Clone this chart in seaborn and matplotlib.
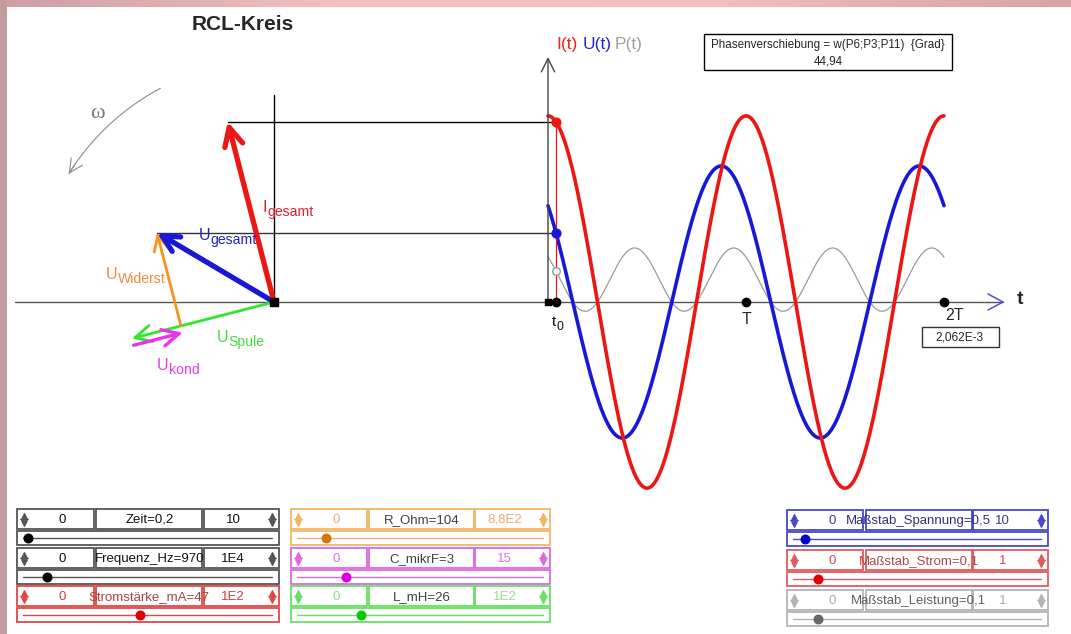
#!/usr/bin/env python3
'''
Zeigerdiagramm und Zeitverlauf eines RCL-Kreises (Nachbau eines
Bildschirmfotos). Alle Zeiger und Kurven werden aus den Reglerwerten
berechnet.
'''
import numpy as np
import seaborn as sns
import matplotlib.pyplot as plt
from matplotlib.patches import Rectangle

# ---- Reglerwerte aus dem Bild ----
R_ohm = 104
C_mikrF = 3
L_mH = 26
f_Hz = 970
I_mA = 47
t0_periods = 0.04           # Lage von t0 auf der Zeitachse (in Perioden)

slider_labels = ["Zeit=0,2", "Frequenz_Hz=970", "Stromstärke_mA=47",
                 "R_Ohm=104", "C_mikrF=3", "L_mH=26",
                 "Maßstab_Spannung=0,5", "Maßstab_Strom=0,1",
                 "Maßstab_Leistung=0,1"]
slider_values = [0.2, 970, 47, 104, 3, 26, 0.5, 0.1, 0.1]
slider_max = [10, 1e4, 100, 880, 15, 100, 10, 1, 1]
slider_min_text = ["0"] * 9
slider_max_text = ["10", "1E4", "1E2", "8,8E2", "15", "1E2", "10", "1", "1"]

# ---- Layout (Pixel) ----
W, H = 1071, 634
PH_O = np.array([274.0, 302.0])   # Ursprung Zeigerdiagramm
T_O = np.array([548.0, 302.0])    # Ursprung Zeitdiagramm
PX_PER_T = 198.0                  # Pixel pro Periode
PX_V, PX_MA, PX_MW = 19.7, 3.96, 0.195

RED, BLUE, GRAY = "#ee1515", "#1818d8", "#9a9a9a"
ORANGE, GREEN, MAGENTA = "#f7941d", "#2ee82e", "#ee30ee"

# Reglerstil: Rand, Zahlen, Beschriftung, Punkt, Spalte, Zeile
slider_edge = ["#555555", "#555555", "#e04848", "#f2b466", "#e066e0",
               "#66e066", "#4848c8", "#e05a5a", "#b4b4b4"]
slider_num = ["#111111", "#111111", "#d03a3a", "#f0a868", "#e070e0",
              "#8ee08e", "#3a3aa0", "#d84848", "#a8a8a8"]
slider_lab = ["#111111", "#111111", "#b04040", "#404040", "#404040",
              "#404040", "#303080", "#b04848", "#606060"]
slider_dot = ["#000000", "#000000", "#dd0000", "#d47510", "#dd00dd",
              "#00cc00", "#0000cc", "#dd0000", "#666666"]
slider_cols = [(17, 279)] * 3 + [(291, 550)] * 3 + [(787, 1048)] * 3
slider_rows = [509, 548, 586, 509, 548, 586, 510, 550, 590]


def vec(length, ang):
    '''Zeiger in Pixelkoordinaten (y nach unten).'''
    return np.array([length * np.cos(ang), -length * np.sin(ang)])


def arrow(ax, start, tip, color, lw, scale=18):
    ax.annotate('', xy=tip, xytext=start,
                arrowprops=dict(arrowstyle='->,head_length=0.6,head_width=0.3',
                                color=color, lw=lw, shrinkA=0, shrinkB=0,
                                mutation_scale=scale))


def sublabel(ax, x, y, main, sub, color, size=11.5, frac=0.88):
    '''Text mit Index, y = Grundlinie des Haupttextes.'''
    t = ax.text(x, y, main, color=color, fontsize=size, va='baseline')
    ax.annotate(sub, xy=(1, 0), xycoords=t, xytext=(0.0, -2.6),
                textcoords='offset points', color=color,
                fontsize=size * frac, va='bottom')


def spin(ax, x, yc, color):
    ax.scatter([x], [yc - 3.5], marker='^', s=16, color=color, zorder=5)
    ax.scatter([x], [yc + 3.5], marker='v', s=16, color=color, zorder=5)
    ax.plot([x - 4, x + 4], [yc, yc], color=color, lw=0.8)


def draw_slider(ax, k):
    x0, x1 = slider_cols[k]
    y0 = slider_rows[k]
    w = x1 - x0
    edge = slider_edge[k]
    cells = [(x0, x0 + 0.292 * w), (x0 + 0.303 * w, x0 + 0.707 * w),
             (x0 + 0.712 * w, x1)]
    for a, b in cells:
        ax.add_patch(Rectangle((a, y0), b - a, 20, fill=False, ec=edge, lw=1.3))
    yc = y0 + 10
    spin(ax, x0 + 7, yc, edge)
    spin(ax, x1 - 7, yc, edge)
    ty = yc + 1
    ax.text((cells[0][0] + cells[0][1]) / 2 + 7, ty, slider_min_text[k],
            ha='center', va='center', fontsize=9.5, color=slider_num[k])
    ax.text((cells[2][0] + cells[2][1]) / 2 - 8, ty, slider_max_text[k],
            ha='center', va='center', fontsize=9.5, color=slider_num[k])
    ax.text((cells[1][0] + cells[1][1]) / 2, ty, slider_labels[k],
            ha='center', va='center', fontsize=9.5, color=slider_lab[k])
    # Schiebeleiste
    sy = y0 + 22
    ax.add_patch(Rectangle((x0, sy), w, 14, fill=False, ec=edge, lw=1.3))
    ta, tb = x0 + 6, x1 - 7
    ax.plot([ta, tb], [sy + 7, sy + 7], color=edge, lw=1)
    xd = ta + slider_values[k] / slider_max[k] * (tb - ta)
    ax.scatter([xd], [sy + 7], s=38, color=slider_dot[k], zorder=6)


def main():
    sns.set_theme(style='white')
    plt.rcParams['font.family'] = ['Liberation Sans', 'DejaVu Sans']

    # Physik
    w = 2 * np.pi * f_Hz
    XL = w * L_mH * 1e-3
    XC = 1 / (w * C_mikrF * 1e-6)
    phi = np.arctan2(XL - XC, R_ohm)
    I_A = I_mA * 1e-3
    U_R, U_L, U_C = R_ohm * I_A, XL * I_A, XC * I_A
    U_tot = np.hypot(R_ohm, XL - XC) * I_A
    T_s = 1 / f_Hz

    fig = plt.figure(figsize=(W / 100, H / 100), dpi=100)
    ax = fig.add_axes([0, 0, 1, 1])
    ax.axis('off')

    # rosa Fensterrand
    grad = np.linspace(0, 1, 200)[None, :]
    ax.imshow(grad, extent=[0, W, 7, 0], cmap=sns.blend_palette(
        ["#cfa0a3", "#f2c2c4", "#f0bfc2", "#d6a3a6"], as_cmap=True),
        aspect='auto', zorder=0)
    ax.add_patch(Rectangle((0, 0), 7, H, color="#c39b9d", lw=0))
    ax.set_xlim(0, W)
    ax.set_ylim(H, 0)

    ax.text(243, 25, "RCL-Kreis", fontsize=15, fontweight='bold',
            ha='center', va='center')

    # Achsen
    ax.plot([15, 1003], [PH_O[1], PH_O[1]], color='#555555', lw=1)
    ax.plot([988, 1003, 988], [294, 302, 310], color='#5050d0', lw=1.1)
    ax.text(1020, 299, "t", fontsize=14, fontweight='bold', ha='center', va='center')
    ax.plot([PH_O[0], PH_O[0]], [PH_O[1], 95], color='black', lw=1)
    arrow(ax, T_O, (T_O[0], 57), '#444444', 1, scale=16)

    # Zeiger
    thI = np.pi / 2 + 2 * np.pi * t0_periods
    I_tip = PH_O + vec(I_mA * PX_MA, thI)
    L_tip = PH_O + vec(U_L * PX_V, thI + np.pi / 2)
    C_off = vec(7, thI + np.pi)      # leicht versetzt, damit sichtbar
    C_tip = L_tip + vec(U_C * PX_V, thI - np.pi / 2)
    U_tip = C_tip + vec(U_R * PX_V, thI)

    x0 = T_O[0] + t0_periods * PX_PER_T
    ax.plot([I_tip[0], x0], [I_tip[1], I_tip[1]], color='black', lw=1)
    ax.plot([U_tip[0], x0], [U_tip[1], U_tip[1]], color='#333333', lw=1)

    arrow(ax, PH_O, L_tip, GREEN, 2.0, scale=20)
    arrow(ax, L_tip + C_off, C_tip + C_off, MAGENTA, 2.4, scale=20)
    arrow(ax, C_tip, U_tip, ORANGE, 2.0, scale=18)
    arrow(ax, PH_O, U_tip, BLUE, 3.8, scale=20)
    arrow(ax, PH_O, I_tip, RED, 3.8, scale=22)
    ax.scatter([PH_O[0]], [PH_O[1]], marker='s', s=30, color='black', zorder=7)

    sublabel(ax, 263, 212, "I", "gesamt", '#e0202a')
    sublabel(ax, 199, 240, "U", "gesamt", '#2222c0')
    sublabel(ax, 106, 279, "U", "Widerst", '#f08a3a')
    sublabel(ax, 217, 342, "U", "Spule", '#3ede3e')
    sublabel(ax, 157, 370, "U", "kond", '#e040e0')

    # Drehsinn omega
    ang = np.radians(np.linspace(118, 148, 60))
    r = 242
    ax.plot(PH_O[0] + r * np.cos(ang), PH_O[1] - r * np.sin(ang), color='#8a8a8a', lw=0.8)
    arrow(ax, (PH_O[0] + r * np.cos(ang[-6]), PH_O[1] - r * np.sin(ang[-6])),
          (PH_O[0] + r * np.cos(ang[-1]), PH_O[1] - r * np.sin(ang[-1])), '#8a8a8a', 0.8, 16)
    ax.text(97, 113, "ω", color='#777777', fontsize=16, family='Liberation Serif',
            ha='center', va='center')

    # Zeitverlauf
    t = np.linspace(0, 2 * T_s, 500)
    xs = T_O[0] + t / T_s * PX_PER_T
    i_t = I_mA * np.cos(w * t)
    u_t = U_tot * np.cos(w * t + phi)
    p_t = u_t * i_t
    sns.lineplot(x=xs, y=T_O[1] - p_t * PX_MW, color=GRAY, lw=0.9, ax=ax,
                 sort=False, estimator=None)
    sns.lineplot(x=xs, y=T_O[1] - u_t * PX_V, color=BLUE, lw=2.6, ax=ax,
                 sort=False, estimator=None)
    sns.lineplot(x=xs, y=T_O[1] - i_t * PX_MA, color=RED, lw=2.6, ax=ax,
                 sort=False, estimator=None)

    t0 = t0_periods * T_s
    i0 = T_O[1] - I_mA * np.cos(w * t0) * PX_MA
    u0 = T_O[1] - U_tot * np.cos(w * t0 + phi) * PX_V
    p0 = T_O[1] - U_tot * np.cos(w * t0 + phi) * I_mA * np.cos(w * t0) * PX_MW
    ax.plot([x0, x0], [i0, T_O[1]], color=RED, lw=0.9)
    ax.scatter([x0], [i0], s=40, color=RED, zorder=7)
    ax.scatter([x0], [u0], s=40, color=BLUE, zorder=7)
    ax.scatter([x0], [p0], s=30, facecolor='white', edgecolor=GRAY, lw=1, zorder=7)

    marks = T_O[0] + np.array([t0_periods, 1, 2]) * PX_PER_T
    ax.scatter(marks, [T_O[1]] * 3, s=36, color='black', zorder=7)
    ax.scatter([T_O[0]], [T_O[1]], marker='s', s=22, color='black', zorder=7)
    sublabel(ax, x0 - 4, 326, "t", "0", '#111111', size=11, frac=0.8)
    ax.text(marks[1], 320, "T", fontsize=11.5, ha='center', va='center')
    ax.text(marks[2] + 11, 316, "2T", fontsize=11.5, ha='center', va='center')

    ax.text(556, 45, "I(t)", color='#ee2020', fontsize=12.5, va='center')
    ax.text(583, 45, "U(t)", color='#2828c8', fontsize=12.5, va='center')
    ax.text(615, 45, "P(t)", color='#a0a0a0', fontsize=12.5, va='center')

    # Anzeigen
    ax.add_patch(Rectangle((704, 34), 248, 36, fill=False, ec='black', lw=1))
    ax.text(828, 45, "Phasenverschiebung = w(P6;P3;P11)  {Grad}", fontsize=8.4,
            ha='center', va='center')
    ax.text(828, 61, f"{np.degrees(phi):.2f}".replace('.', ','), fontsize=8.4,
            ha='center', va='center')
    ax.add_patch(Rectangle((922, 327), 77, 20, fill=False, ec='#333333', lw=1))
    ax.text(960, 338, f"{2 * T_s:.3E}".replace('.', ',').replace('E-03', 'E-3'),
            fontsize=8.6, ha='center', va='center')

    for k in range(len(slider_labels)):
        draw_slider(ax, k)

    fig.savefig("out.png", dpi=100)


if __name__ == '__main__':
    main()
